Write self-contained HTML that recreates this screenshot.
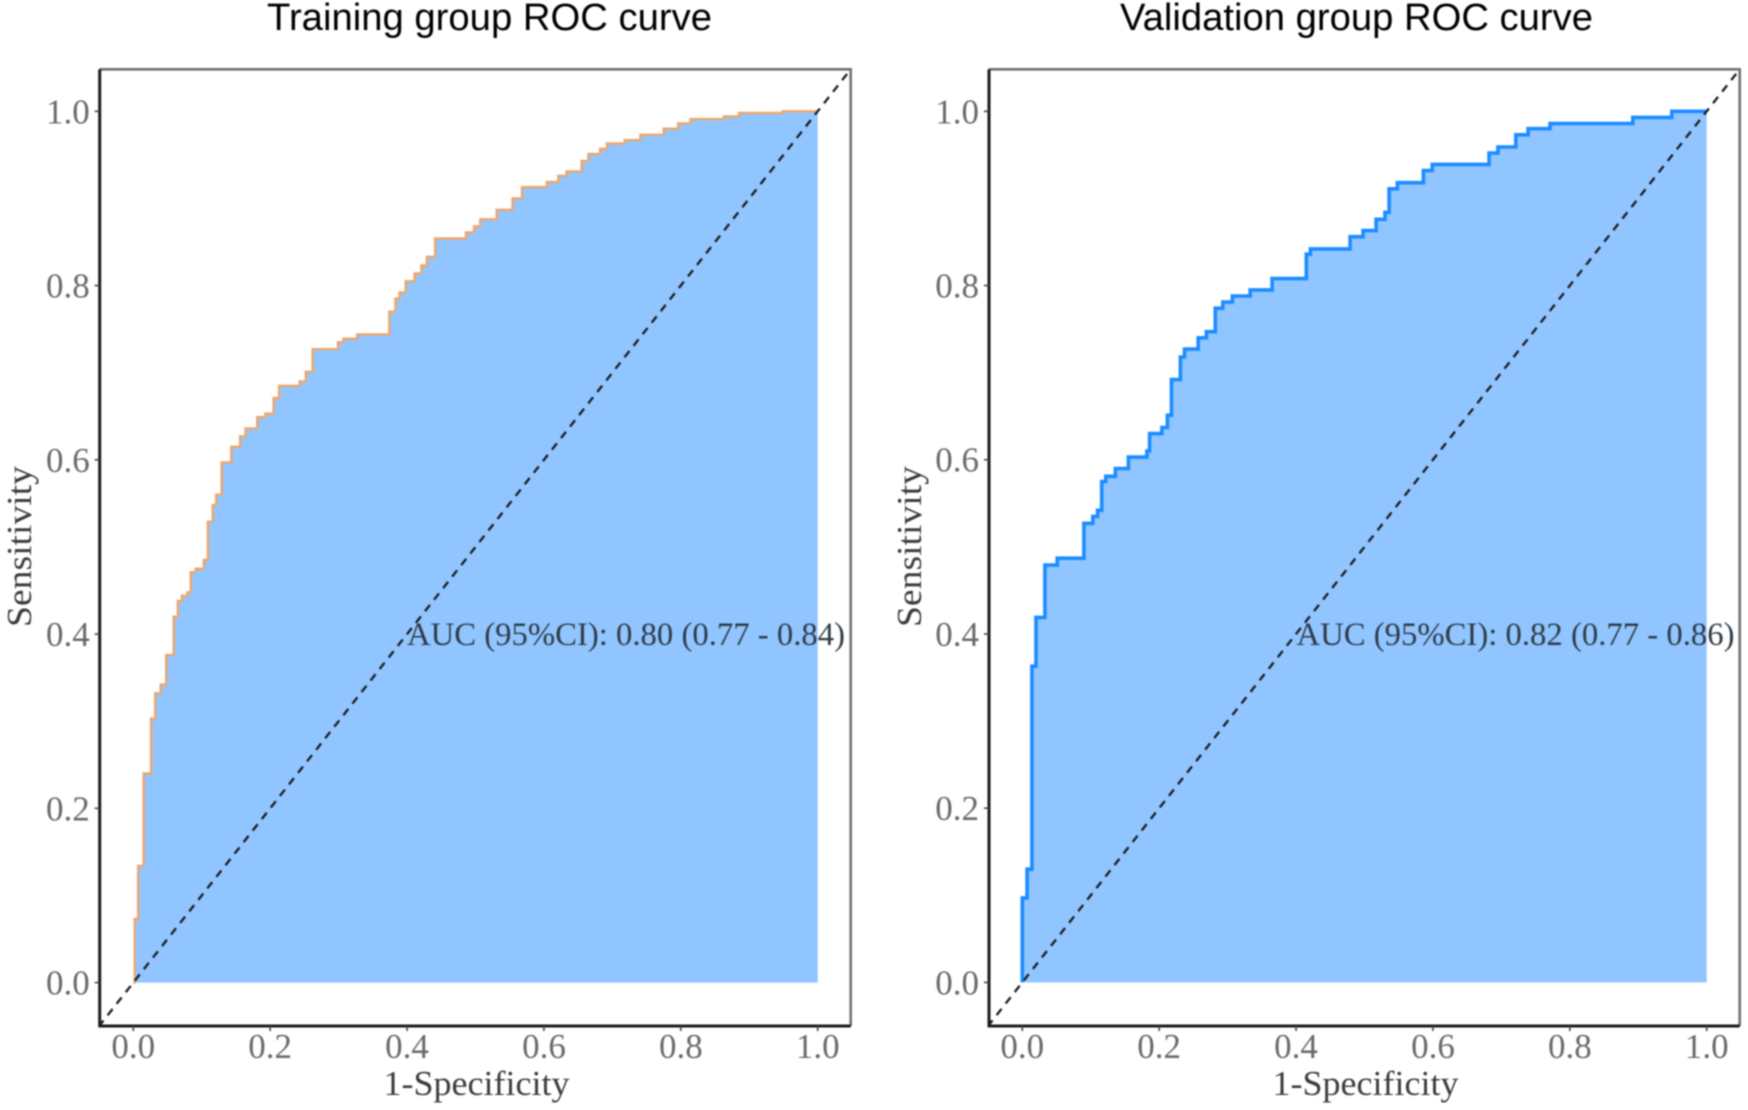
<!DOCTYPE html>
<html lang="en">
<head>
<meta charset="utf-8">
<title>ROC curves</title>
<style>
html,body{margin:0;padding:0;background:#fff;}
svg{display:block;filter:blur(0.7px);}
.title{font-family:"Liberation Sans",sans-serif;font-size:38px;fill:#000;}
.tick{font-family:"Liberation Serif",serif;font-size:35px;fill:#6a6a6a;}
.axis{font-family:"Liberation Serif",serif;font-size:35px;fill:#3c3c3c;}
.auc{font-family:"Liberation Serif",serif;font-size:33px;fill:#2f3b48;}
</style>
</head>
<body>
<svg id="chart" xmlns="http://www.w3.org/2000/svg" width="1748" height="1110" viewBox="0 0 1748 1110">
  <rect x="0" y="0" width="1748" height="1110" fill="#fff"/>
  <text class="title" x="267" y="30" textLength="445" lengthAdjust="spacingAndGlyphs">Training group ROC curve</text>
  <text class="title" x="1120" y="30" textLength="473" lengthAdjust="spacingAndGlyphs">Validation group ROC curve</text>
</svg>
<script>
const tickValues = [0, 0.2, 0.4, 0.6, 0.8, 1.0];
const tickLabels = ["0.0", "0.2", "0.4", "0.6", "0.8", "1.0"];

const trainFpr = [0, 0.002, 0.007, 0.015, 0.026, 0.032, 0.040, 0.048, 0.059, 0.065, 0.071, 0.079, 0.084, 0.091, 0.103, 0.109, 0.116, 0.121, 0.129, 0.143, 0.156, 0.164, 0.181, 0.193, 0.205, 0.213, 0.243, 0.252, 0.262, 0.299, 0.307, 0.327, 0.374, 0.383, 0.389, 0.398, 0.411, 0.421, 0.429, 0.441, 0.486, 0.498, 0.507, 0.531, 0.554, 0.568, 0.604, 0.621, 0.633, 0.655, 0.665, 0.682, 0.692, 0.718, 0.741, 0.775, 0.796, 0.814, 0.863, 0.885, 0.949, 1.0];
const trainTpr = [0, 0.073, 0.134, 0.240, 0.303, 0.332, 0.342, 0.376, 0.420, 0.438, 0.444, 0.448, 0.471, 0.475, 0.485, 0.529, 0.548, 0.560, 0.597, 0.615, 0.627, 0.636, 0.649, 0.653, 0.671, 0.685, 0.690, 0.701, 0.727, 0.735, 0.739, 0.744, 0.770, 0.785, 0.792, 0.805, 0.814, 0.823, 0.833, 0.854, 0.861, 0.868, 0.876, 0.887, 0.900, 0.913, 0.919, 0.926, 0.931, 0.943, 0.951, 0.957, 0.963, 0.967, 0.973, 0.980, 0.986, 0.991, 0.994, 0.998, 1.0, 1.0];

const validFpr = [0, 0, 0.007, 0.014, 0.020, 0.033, 0.051, 0.090, 0.103, 0.110, 0.116, 0.122, 0.136, 0.155, 0.182, 0.186, 0.204, 0.212, 0.218, 0.231, 0.237, 0.257, 0.269, 0.282, 0.293, 0.307, 0.333, 0.365, 0.415, 0.421, 0.479, 0.498, 0.517, 0.530, 0.536, 0.548, 0.586, 0.599, 0.682, 0.695, 0.721, 0.739, 0.771, 0.892, 0.949, 1.0];
const validTpr = [0, 0.097, 0.130, 0.363, 0.419, 0.479, 0.487, 0.527, 0.535, 0.542, 0.575, 0.581, 0.590, 0.603, 0.610, 0.630, 0.637, 0.651, 0.692, 0.718, 0.727, 0.740, 0.747, 0.774, 0.781, 0.788, 0.795, 0.808, 0.836, 0.842, 0.856, 0.863, 0.876, 0.884, 0.911, 0.918, 0.932, 0.939, 0.952, 0.959, 0.973, 0.980, 0.986, 0.993, 1.0, 1.0];

const trainAucText = "AUC (95%CI): 0.80 (0.77 - 0.84)";
const validAucText = "AUC (95%CI): 0.82 (0.77 - 0.86)";

const NS = "http://www.w3.org/2000/svg";
const svg = document.getElementById("chart");

function make(parent, tag, attrs, text) {
  const el = document.createElementNS(NS, tag);
  for (const k in attrs) el.setAttribute(k, attrs[k]);
  if (text !== undefined) el.textContent = text;
  parent.appendChild(el);
  return el;
}

function drawPanel(cfg) {
  const sx = v => cfg.x0 + v * (cfg.x1 - cfg.x0);
  const sy = v => cfg.y0 + v * (cfg.y1 - cfg.y0);

  const g = make(svg, "g", {});
  
  

  let line = "M" + sx(cfg.fpr[0]) + " " + sy(cfg.tpr[0]);
  for (let i = 1; i < cfg.fpr.length; i++) {
    line += "H" + sx(cfg.fpr[i]).toFixed(1) + "V" + sy(cfg.tpr[i]).toFixed(1);
  }
  const lastX = cfg.fpr[cfg.fpr.length - 1];
  const area = make(g, "path", {
    d: line + "H" + sx(lastX).toFixed(1) + "V" + sy(0) + "Z",
    fill: "#90c5ff", stroke: "none"
  });
  
  

  const curve = make(g, "path", {
    d: line, fill: "none", stroke: cfg.color, "stroke-width": cfg.lineWidth,
    "stroke-linejoin": "miter"
  });
  
  

  const clipId = cfg.key + "-clip";
  const clip = make(g, "clipPath", { id: clipId });
  make(clip, "rect", { x: cfg.left, y: cfg.top, width: cfg.right - cfg.left, height: cfg.bottom - cfg.top });
  const diag = make(g, "line", {
    x1: sx(-0.05), y1: sy(-0.05), x2: sx(1.05), y2: sy(1.05),
    stroke: "#1a1a1a", "stroke-width": 2.3, "stroke-dasharray": "8 6.68",
    "stroke-dashoffset": 0.88,
    "clip-path": "url(#" + clipId + ")"
  });
  
  

  const topRight = make(g, "path", {
    d: "M" + cfg.left + " " + cfg.top + "H" + cfg.right + "V" + cfg.bottom,
    fill: "none", stroke: "#707070", "stroke-width": 2.6
  });
  
  

  const xAxis = make(g, "line", { x1: cfg.left - 1, y1: cfg.bottom, x2: cfg.right, y2: cfg.bottom, stroke: "#1a1a1a", "stroke-width": 3 });
  
  

  const yAxis = make(g, "line", { x1: cfg.left, y1: cfg.top, x2: cfg.left, y2: cfg.bottom + 1, stroke: "#1a1a1a", "stroke-width": 3 });
  
  

  tickValues.forEach((v, i) => {
    const xt = make(g, "line", { x1: sx(v), y1: cfg.bottom, x2: sx(v), y2: cfg.bottom + 5, stroke: "#444", "stroke-width": 1.6 });
    
    

    const xl = make(g, "text", { class: "tick", x: sx(v), y: 1058, "text-anchor": "middle" }, tickLabels[i]);
    
    

    const yt = make(g, "line", { x1: cfg.left - 5, y1: sy(v), x2: cfg.left, y2: sy(v), stroke: "#444", "stroke-width": 1.6 });
    
    

    const yl = make(g, "text", { class: "tick", x: cfg.left - 10, y: sy(v) + 12, "text-anchor": "end" }, tickLabels[i]);
    
    
  });

  const xTitle = make(g, "text", { class: "axis", x: cfg.xTitleX, y: 1095, textLength: 186, lengthAdjust: "spacingAndGlyphs" }, "1-Specificity");
  
  

  const yTitle = make(g, "text", {
    class: "axis", x: 0, y: 0, textLength: 161, lengthAdjust: "spacingAndGlyphs",
    "text-anchor": "start",
    transform: "translate(" + cfg.yTitleX + " 627) rotate(-90)"
  }, "Sensitivity");
  
  

  const auc = make(g, "text", { class: "auc", x: cfg.aucX, y: 645, textLength: 438, lengthAdjust: "spacingAndGlyphs" }, cfg.aucText);
  
  
}

drawPanel({
  key: "training", fpr: trainFpr, tpr: trainTpr, color: "#eea66c", lineWidth: 2.4,
  x0: 133.3, x1: 817.7, y0: 982.6, y1: 111.3,
  left: 99.7, right: 850.7, top: 69.3, bottom: 1026,
  xTitleX: 383.5, yTitleX: 31, aucX: 407, aucText: trainAucText
});

drawPanel({
  key: "validation", fpr: validFpr, tpr: validTpr, color: "#1c8cff", lineWidth: 3.6,
  x0: 1022.3, x1: 1706.7, y0: 982.4, y1: 111.3,
  left: 989, right: 1739.7, top: 69.3, bottom: 1026,
  xTitleX: 1272.5, yTitleX: 921, aucX: 1296.5, aucText: validAucText
});
</script>
</body>
</html>
